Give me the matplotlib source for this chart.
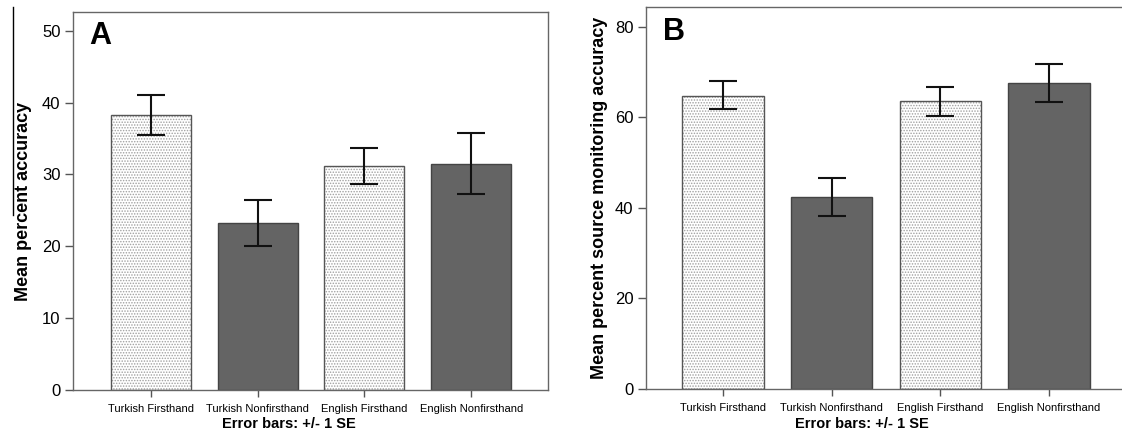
import matplotlib
matplotlib.use('Agg')
import matplotlib.pyplot as plt
from matplotlib.lines import Line2D

plt.rcParams['font.family'] = ['Liberation Sans', 'DejaVu Sans']
plt.rcParams['hatch.linewidth'] = 0.7

categories = ['Turkish Firsthand', 'Turkish Nonfirsthand', 'English Firsthand', 'English Nonfirsthand']
firsthand = [True, False, True, False]

# panel A: mean percent accuracy, with +/- 1 SE
acc_mean = [38.2, 23.3, 31.2, 31.5]
acc_lo = [35.5, 20.1, 28.7, 27.3]
acc_hi = [41.1, 26.5, 33.7, 35.7]

# panel B: mean percent source monitoring accuracy, with +/- 1 SE
src_mean = [64.8, 42.4, 63.6, 67.6]
src_lo = [61.8, 38.2, 60.4, 63.4]
src_hi = [68.0, 46.7, 66.8, 71.8]

W, H = 1122, 437
fig = plt.figure(figsize=(W / 100, H / 100), dpi=100)


def px_axes(x0, y0, x1, y1):
    return fig.add_axes([x0 / W, 1 - y1 / H, (x1 - x0) / W, (y1 - y0) / H])


def draw_panel(ax, means, lo, hi, ylim, yticks, ylabel, letter, xlim, lpad):
    x = list(range(len(categories)))
    for i, m in enumerate(means):
        if firsthand[i]:
            ax.bar(i, m, width=0.75, color='white', edgecolor='#a0a0a0',
                   hatch='......', linewidth=0, zorder=2)
            ax.bar(i, m, width=0.75, color='none', edgecolor='#555555',
                   linewidth=1.0, zorder=3)
        else:
            ax.bar(i, m, width=0.75, color='#646464', edgecolor='#444444',
                   linewidth=1.0, zorder=2)
    err = [[m - l for m, l in zip(means, lo)], [h - m for m, h in zip(means, hi)]]
    ax.errorbar(x, means, yerr=err, fmt='none', ecolor='#111111',
                elinewidth=1.5, capsize=10, capthick=1.5, zorder=4)
    ax.set_xlim(*xlim)
    ax.set_ylim(*ylim)
    ax.set_yticks(yticks)
    ax.set_yticklabels([str(t) for t in yticks], fontsize=12)
    ax.set_xticks(x)
    ax.set_xticklabels(categories, fontsize=8)
    ax.tick_params(axis='y', length=6, width=1, color='#555555', pad=3)
    ax.tick_params(axis='x', length=5, width=1, color='#555555', pad=5)
    for s in ax.spines.values():
        s.set_color('#666666')
        s.set_linewidth(1.0)
    ax.set_ylabel(ylabel, fontsize=13, fontweight='bold', labelpad=lpad)
    ax.text(0.035, 0.975, letter, transform=ax.transAxes, fontsize=22,
            fontweight='bold', va='top', ha='left')


axA = px_axes(73, 12, 548, 390)
draw_panel(axA, acc_mean, acc_lo, acc_hi, (0, 52.6), [0, 10, 20, 30, 40, 50],
           'Mean percent accuracy', 'A', (-0.73, 3.72), 7)

axB = px_axes(646, 7, 1127, 389)
draw_panel(axB, src_mean, src_lo, src_hi, (0, 84.4), [0, 20, 40, 60, 80],
           'Mean percent source monitoring accuracy', 'B', (-0.71, 3.72), 5)

fig.text(289 / W, 1 - 424 / H, 'Error bars: +/- 1 SE', fontsize=10.5,
         fontweight='bold', ha='center', va='center')
fig.text(862 / W, 1 - 424 / H, 'Error bars: +/- 1 SE', fontsize=10.5,
         fontweight='bold', ha='center', va='center')

# stray vertical rule at far left of the original figure
fig.add_artist(Line2D([12.5 / W, 12.5 / W], [1 - 7 / H, 1 - 215 / H],
                      color='black', linewidth=1.0))

fig.savefig('out.png', dpi=100)
